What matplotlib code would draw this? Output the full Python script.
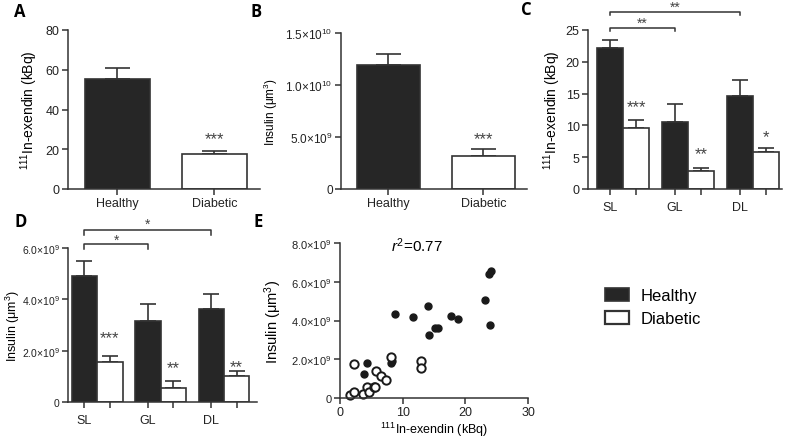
import numpy as np
from matplotlib import pyplot as plt
from matplotlib.patches import Patch

plt.rcParams['font.family'] = ['Liberation Sans', 'DejaVu Sans']
plt.rcParams['mathtext.fontset'] = 'custom'
plt.rcParams['mathtext.rm'] = 'Liberation Sans'
plt.rcParams['mathtext.it'] = 'Liberation Sans:italic'
plt.rcParams['mathtext.bf'] = 'Liberation Sans:bold'

DARK = '#262626'
EDGE = '#333333'
W, H = 787, 439

# panel A / B: whole pancreas
groups = ['Healthy', 'Diabetic']
uptake_total = [55.5, 17.5]
uptake_total_err = [5.6, 1.8]
insulin_total = [1.19e10, 3.15e9]
insulin_total_err = [1.1e9, 0.7e9]
total_stars = ['', '***']

# panel C / D: per region
regions = ['SL', 'GL', 'DL']
uptake_healthy = [22.1, 10.6, 14.6]
uptake_healthy_err = [1.4, 2.7, 2.5]
uptake_diabetic = [9.6, 2.8, 5.8]
uptake_diabetic_err = [1.3, 0.5, 0.6]
uptake_stars = ['***', '**', '*']
uptake_pair_stars = ['**', '**']      # SL vs GL, SL vs DL
insulin_healthy = [4.9e9, 3.15e9, 3.62e9]
insulin_healthy_err = [0.6e9, 0.65e9, 0.6e9]
insulin_diabetic = [1.57e9, 0.53e9, 1.0e9]
insulin_diabetic_err = [0.21e9, 0.27e9, 0.22e9]
insulin_stars = ['***', '**', '**']
insulin_pair_stars = ['*', '*']

# panel E: uptake vs insulin per animal
healthy_uptake = [8.8, 11.7, 14.0, 14.2, 15.2, 15.7, 17.7, 18.8, 23.2, 23.7, 24.1,
                  23.9, 4.3, 3.8, 8.2, 8.3]
healthy_insulin = [4.33, 4.16, 4.76, 3.25, 3.61, 3.61, 4.21, 4.06, 5.04, 6.39, 6.53,
                   3.76, 1.82, 1.24, 1.80, 1.89]
diabetic_uptake = [2.2, 1.6, 2.2, 3.6, 4.3, 4.6, 5.4, 5.6, 5.7, 6.5, 7.3, 8.2, 12.9, 12.9]
diabetic_insulin = [1.74, 0.15, 0.32, 0.20, 0.58, 0.29, 0.58, 0.58, 1.38, 1.15, 0.94,
                    2.10, 1.91, 1.53]
r_squared = 0.77

insulin_ticks_b = [0, 5e9, 1e10, 1.5e10]
insulin_labels_b = ['0', r'5.0$\times$10$^{9}$', r'1.0$\times$10$^{10}$', r'1.5$\times$10$^{10}$']
insulin_ticks_d = [0, 2e9, 4e9, 6e9]
insulin_labels_d = ['0', r'2.0$\times$10$^{9}$', r'4.0$\times$10$^{9}$', r'6.0$\times$10$^{9}$']
insulin_ticks_e = [0, 2, 4, 6, 8]
insulin_labels_e = ['0', r'2.0$\times$10$^{9}$', r'4.0$\times$10$^{9}$',
                    r'6.0$\times$10$^{9}$', r'8.0$\times$10$^{9}$']

UPTAKE_LABEL = r'$^{111}$In-exendin (kBq)'
INSULIN_LABEL = r'Insulin ($\mathrm{\mu}$m$^3$)'


def add_axes(fig, x0, y0, x1, y1):
    # pixel box (left, top, right, bottom) -> figure fraction
    return fig.add_axes([x0 / W, 1 - y1 / H, (x1 - x0) / W, (y1 - y0) / H])


def style_axes(ax):
    for s in ['top', 'right']:
        ax.spines[s].set_visible(False)
    for s in ['left', 'bottom']:
        ax.spines[s].set_linewidth(1.1)
        ax.spines[s].set_color(EDGE)
    ax.tick_params(width=1.1, length=4, pad=2, color=EDGE, labelsize=9,
                   labelcolor='#222222')


def draw_bars(ax, x, vals, errs, colors, width, capsize):
    ax.bar(x, vals, width, color=colors, edgecolor=EDGE, linewidth=1.2, zorder=2)
    ax.errorbar(x, vals, yerr=[np.zeros(len(vals)), errs], fmt='none', ecolor=EDGE,
                elinewidth=1.2, capsize=capsize, capthick=1.2, zorder=1)


def stars(ax, x, y, s, size=12):
    ax.text(x, y, s, ha='center', va='center', fontsize=size, color='#444444')


def bracket(ax, x0, x1, y, tip, text, ty):
    ax.plot([x0, x0, x1, x1], [y - tip, y, y, y - tip], color=EDGE, lw=1.1,
            clip_on=False)
    stars(ax, (x0 + x1) / 2, ty, text, size=10)


def panel_total(ax, vals, errs, star_y, capsize):
    x = np.arange(len(groups))
    draw_bars(ax, x, vals, errs, [DARK, 'white'], 0.67, capsize)
    for i, s in enumerate(total_stars):
        if s:
            stars(ax, x[i], star_y, s)
    ax.set_xticks(x)
    ax.set_xticklabels(groups)
    style_axes(ax)


def panel_regions(ax, hv, he, dv, de, marks, star_y):
    x = np.arange(len(regions))
    draw_bars(ax, x - 0.2, hv, he, DARK, 0.4, 6)
    draw_bars(ax, x + 0.2, dv, de, 'white', 0.4, 6)
    for i, s in enumerate(marks):
        stars(ax, x[i] + 0.2, star_y[i], s)
    ticks = np.sort(np.concatenate([x - 0.2, x + 0.2]))
    ax.set_xticks(ticks)
    ax.set_xticklabels([r if k % 2 == 0 else '' for k, r in
                        enumerate(np.repeat(regions, 2))])
    style_axes(ax)
    ax.tick_params(axis='x', pad=5)
    return x - 0.2


fig = plt.figure(figsize=(7.87, 4.39), dpi=100)

# A
ax = add_axes(fig, 68, 31, 260, 190)
panel_total(ax, uptake_total, uptake_total_err, 25.1, 9)
ax.set_xlim(-0.51, 1.47)
ax.set_ylim(0, 80)
ax.set_yticks([0, 20, 40, 60, 80])
ax.set_ylabel(UPTAKE_LABEL, fontsize=10)

# B
ax = add_axes(fig, 341, 34, 527, 190)
panel_total(ax, insulin_total, insulin_total_err, 4.8e9, 9)
ax.set_xlim(-0.5, 1.46)
ax.set_ylim(0, 1.5e10)
ax.set_yticks(insulin_ticks_b)
ax.set_yticklabels(insulin_labels_b, fontsize=8.5)
ax.set_ylabel(INSULIN_LABEL, fontsize=8.5)

# C
ax = add_axes(fig, 588, 31, 782, 190)
hx = panel_regions(ax, uptake_healthy, uptake_healthy_err, uptake_diabetic,
                   uptake_diabetic_err, uptake_stars, [12.9, 5.5, 8.2])
ax.set_xlim(-0.54, 2.45)
ax.set_ylim(0, 25)
ax.set_yticks([0, 5, 10, 15, 20, 25])
ax.set_ylabel(UPTAKE_LABEL, fontsize=10, labelpad=2)
bracket(ax, hx[0], hx[1], 25.3, 0.5, uptake_pair_stars[0], 26.1)
bracket(ax, hx[0], hx[2], 27.8, 0.5, uptake_pair_stars[1], 28.6)

# D
ax = add_axes(fig, 68, 249, 257, 403)
hx = panel_regions(ax, insulin_healthy, insulin_healthy_err, insulin_diabetic,
                   insulin_diabetic_err, insulin_stars, [2.5e9, 1.33e9, 1.37e9])
ax.set_xlim(-0.46, 2.52)
ax.set_ylim(0, 6e9)
ax.set_yticks(insulin_ticks_d)
ax.set_yticklabels(insulin_labels_d, fontsize=7.5)
ax.set_ylabel(INSULIN_LABEL, fontsize=9, labelpad=0)
bracket(ax, hx[0], hx[1], 6.17e9, 0.2e9, insulin_pair_stars[0], 6.31e9)
bracket(ax, hx[0], hx[2], 6.70e9, 0.2e9, insulin_pair_stars[1], 6.93e9)

# E
ax = add_axes(fig, 340, 244, 528, 399)
ax.plot(healthy_uptake, healthy_insulin, 'o', color='#1a1a1a', markersize=5,
        clip_on=False)
ax.plot(diabetic_uptake, diabetic_insulin, 'o', markerfacecolor='white',
        markeredgecolor='#1a1a1a', markeredgewidth=1.4, markersize=6, clip_on=False)
ax.set_xlim(0, 30)
ax.set_ylim(0, 8)
ax.set_xticks([0, 10, 20, 30])
style_axes(ax)
ax.set_yticks(insulin_ticks_e)
ax.set_yticklabels(insulin_labels_e, fontsize=8)
ax.set_xlabel(UPTAKE_LABEL, fontsize=9, labelpad=1)
ax.set_ylabel(INSULIN_LABEL, fontsize=10.5, labelpad=5)
ax.text(0.41, 0.99, r'$r^2$=%.2f' % r_squared, transform=ax.transAxes,
        ha='center', va='center', fontsize=11)

# legend
handles = [Patch(facecolor=DARK, edgecolor=EDGE, linewidth=1.2),
           Patch(facecolor='white', edgecolor=EDGE, linewidth=1.6)]
fig.legend(handles, groups, loc='center left', bbox_to_anchor=(605 / W, 1 - 308 / H),
           frameon=False, fontsize=12, handlelength=1.45, handleheight=0.8,
           handletextpad=0.7, labelspacing=0.45, borderpad=0, borderaxespad=0)

# panel letters
for letter, px, py in [('A', 20, 12), ('B', 256, 12), ('C', 526, 10),
                       ('D', 21, 222), ('E', 258, 222)]:
    fig.text(px / W, 1 - py / H, letter, ha='center', va='center', fontsize=12,
             fontweight='bold', family=['Open Sans', 'DejaVu Sans'])

fig.savefig('out.png', dpi=100)
